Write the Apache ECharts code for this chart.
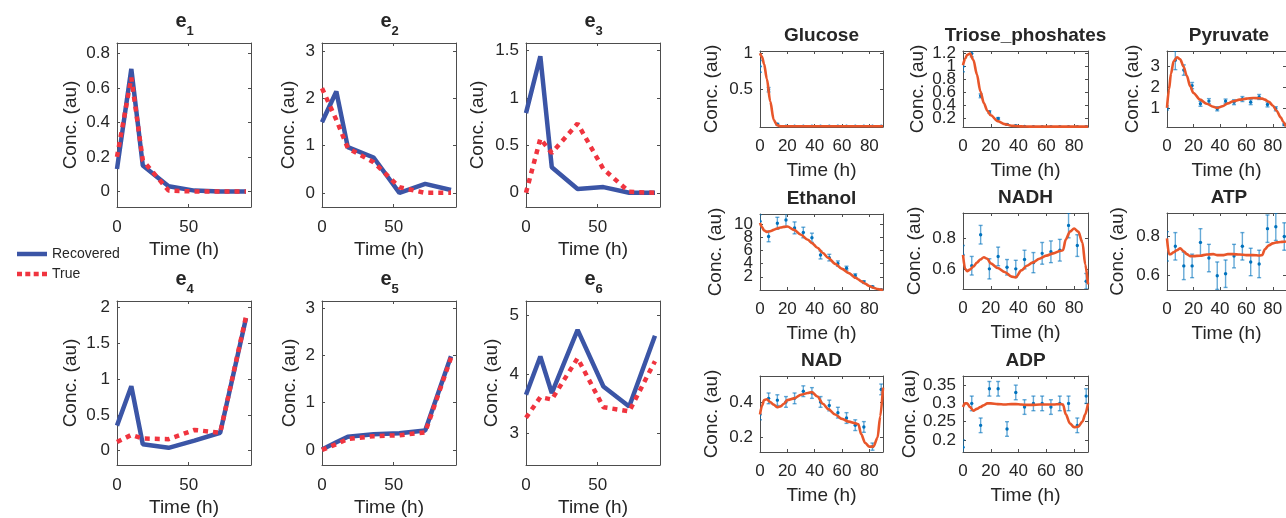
<!DOCTYPE html>
<html>
<head>
<meta charset="UTF-8">
<title>Recovered enzymes and metabolite fits</title>
<script src="https://cdn.jsdelivr.net/npm/echarts@6/dist/echarts.min.js"></script>
<style>
    body { margin: 0; background: #fff; }
    #chart { width: 1286px; height: 518px; }
</style>
</head>
<body>
<div id="chart"></div>
<script>
    // enzyme profiles (left block)
    const eTimes = [0, 10, 18, 36, 54, 72, 90];
    const e1Recovered = [0.13, 0.71, 0.15, 0.03, 0.005, 0, 0];
    const e1True = [0.2, 0.66, 0.18, 0.005, 0, 0, 0];
    const e2Recovered = [1.5, 2.15, 0.97, 0.75, 0, 0.19, 0.06];
    const e2True = [2.22, 1.55, 0.95, 0.65, 0.12, 0, 0];
    const e3Recovered = [0.84, 1.44, 0.27, 0.04, 0.06, 0, 0];
    const e3True = [0, 0.57, 0.42, 0.73, 0.25, 0.01, 0];
    const e4Recovered = [0.35, 0.9, 0.09, 0.04, 0.14, 0.25, 1.85];
    const e4True = [0.12, 0.22, 0.17, 0.16, 0.29, 0.25, 1.87];
    const e5Recovered = [0.01, 0.16, 0.28, 0.33, 0.35, 0.41, 1.98];
    const e5True = [0.0, 0.12, 0.23, 0.29, 0.31, 0.37, 1.95];
    const e6Recovered = [3.66, 4.31, 3.69, 4.76, 3.8, 3.46, 4.66];
    const e6True = [3.27, 3.62, 3.58, 4.28, 3.45, 3.38, 4.23];

    // metabolites (right block): fitted curve + measurements
    const fitTimes = [0, 1.5, 3, 5, 7.5, 10, 12.5, 15, 17.5, 20, 25, 30, 35, 38, 42, 46, 50, 55, 60, 65, 70, 72, 74, 77, 80, 83, 86, 88, 90];
    const obsTimes = [0, 6.3, 12.7, 19, 25.3, 31.7, 38, 44.3, 50.7, 57, 63.3, 69.7, 76, 82.3, 88.7];

    const glucoseFit = [1.0, 0.95, 0.85, 0.65, 0.34, 0.09, 0.015, 0, 0, 0, 0, 0, 0, 0, 0, 0, 0, 0, 0, 0, 0, 0, 0, 0, 0, 0, 0, 0, 0];
    const glucoseObs = [0.82, 0.5, 0.03, 0, 0, 0, 0, 0, 0, 0, 0, 0, 0, 0, 0];
    const glucoseErr = [0.08, 0.03, 0.01, 0, 0, 0, 0, 0, 0, 0, 0, 0, 0, 0, 0];

    const trioseFit = [1.02, 1.12, 1.18, 1.2, 1.1, 0.88, 0.62, 0.44, 0.32, 0.25, 0.16, 0.115, 0.09, 0.085, 0.08, 0.077, 0.076, 0.076, 0.076, 0.076, 0.076, 0.076, 0.076, 0.076, 0.076, 0.076, 0.076, 0.076, 0.076];
    const trioseObs = [1.0, 1.2, 0.55, 0.3, 0.2, 0.11, 0.09, 0.077, 0.076, 0.076, 0.076, 0.076, 0.076, 0.076, 0.076];
    const trioseErr = [0.08, 0.05, 0.03, 0.02, 0.015, 0.01, 0.008, 0, 0, 0, 0, 0, 0, 0, 0];

    const pyruvateFit = [1.0, 1.9, 2.65, 3.25, 3.45, 3.35, 3.0, 2.55, 2.05, 1.72, 1.4, 1.2, 1.06, 1.0, 1.08, 1.22, 1.32, 1.4, 1.45, 1.48, 1.47, 1.45, 1.4, 1.3, 1.12, 0.85, 0.55, 0.32, 0.1];
    const pyruvateObs = [1.0, 3.3, 2.83, 2.08, 1.2, 1.33, 0.96, 1.33, 1.28, 1.43, 1.28, 1.53, 1.17, 0.96, 0.2];
    const pyruvateErr = [0.1, 0.45, 0.25, 0.15, 0.12, 0.12, 0.1, 0.1, 0.12, 0.12, 0.12, 0.12, 0.12, 0.1, 0.05];

    const ethanolFit = [10.15, 9.5, 9.0, 8.8, 8.9, 9.1, 9.3, 9.45, 9.55, 9.6, 9.1, 8.35, 7.6, 7.1, 6.4, 5.6, 4.85, 3.95, 3.2, 2.55, 1.85, 1.6, 1.3, 0.95, 0.6, 0.35, 0.15, 0.06, 0];
    const ethanolObs = [10.4, 8.1, 10.1, 10.6, 9.4, 8.7, 7.9, 5.3, 4.9, 4.0, 3.3, 2.2, 1.2, 0.5, 0.05];
    const ethanolErr = [1.0, 0.8, 0.9, 1.0, 0.9, 0.8, 0.7, 0.6, 0.5, 0.4, 0.3, 0.25, 0.2, 0.1, 0.05];

    const nadhFit = [0.69, 0.6, 0.585, 0.595, 0.615, 0.64, 0.66, 0.675, 0.665, 0.635, 0.605, 0.58, 0.55, 0.545, 0.59, 0.62, 0.64, 0.665, 0.685, 0.7, 0.715, 0.72, 0.79, 0.84, 0.86, 0.84, 0.77, 0.63, 0.5];
    const nadhObs = [0.69, 0.62, 0.82, 0.6, 0.68, 0.61, 0.6, 0.66, 0.64, 0.7, 0.71, 0.72, 0.88, 0.75, 0.52];
    const nadhErr = [0.06, 0.06, 0.06, 0.065, 0.06, 0.05, 0.055, 0.06, 0.065, 0.07, 0.07, 0.07, 0.08, 0.07, 0.05];

    const atpFit = [0.79, 0.71, 0.71, 0.72, 0.73, 0.74, 0.725, 0.71, 0.7, 0.7, 0.702, 0.708, 0.71, 0.705, 0.705, 0.71, 0.71, 0.708, 0.705, 0.705, 0.703, 0.705, 0.735, 0.755, 0.765, 0.77, 0.772, 0.773, 0.775];
    const atpObs = [0.75, 0.75, 0.65, 0.65, 0.77, 0.69, 0.6, 0.61, 0.7, 0.75, 0.67, 0.66, 0.84, 0.85, 0.8];
    const atpErr = [0.075, 0.07, 0.07, 0.06, 0.07, 0.07, 0.07, 0.07, 0.06, 0.07, 0.07, 0.07, 0.07, 0.07, 0.07];

    const nadFit = [0.33, 0.38, 0.41, 0.415, 0.4, 0.385, 0.37, 0.375, 0.39, 0.41, 0.42, 0.44, 0.45, 0.455, 0.43, 0.39, 0.36, 0.33, 0.305, 0.29, 0.28, 0.275, 0.22, 0.17, 0.15, 0.15, 0.2, 0.32, 0.48];
    const nadObs = [0.33, 0.42, 0.41, 0.4, 0.42, 0.46, 0.45, 0.4, 0.38, 0.34, 0.31, 0.27, 0.26, 0.15, 0.47];
    const nadErr = [0.03, 0.03, 0.03, 0.03, 0.03, 0.03, 0.03, 0.03, 0.03, 0.03, 0.03, 0.03, 0.03, 0.02, 0.03];

    const adpFit = [0.29, 0.3, 0.3, 0.29, 0.28, 0.285, 0.29, 0.295, 0.3, 0.3, 0.298, 0.297, 0.298, 0.298, 0.297, 0.296, 0.296, 0.297, 0.297, 0.297, 0.298, 0.297, 0.27, 0.245, 0.235, 0.236, 0.25, 0.27, 0.3];
    const adpObs = [0.18, 0.3, 0.24, 0.34, 0.34, 0.23, 0.33, 0.29, 0.3, 0.3, 0.29, 0.3, 0.3, 0.24, 0.32];
    const adpErr = [0.02, 0.02, 0.02, 0.02, 0.02, 0.02, 0.02, 0.02, 0.02, 0.02, 0.02, 0.02, 0.02, 0.02, 0.02];

    const enzymeXTicks = [0, 50];
    const metaboliteXTicks = [0, 20, 40, 60, 80];

    const font = '"Liberation Sans", Arial, Helvetica, sans-serif';
    const ink = '#262626';
    const recoveredColor = '#3b55a6';
    const trueColor = '#f0343f';
    const fitColor = '#e8562a';

    const chart = echarts.init(document.getElementById('chart'));
    const grids = [], xAxes = [], yAxes = [], series = [], texts = [];

    // one boxed axes, MATLAB style: ticks inside on all four sides
    function addAxes(p) {
        const g = grids.length;
        grids.push({ left: p.left, top: p.top, width: p.w, height: p.h });
        const line = { show: true, onZero: false, lineStyle: { color: '#4d4d4d', width: 1 } };
        const tick = (vals) => ({ show: true, inside: true, length: 3, customValues: vals, lineStyle: { color: '#4d4d4d' } });
        const label = { fontSize: 17, color: ink, fontFamily: font, showMinLabel: true, showMaxLabel: true, hideOverlap: false };
        const xi = xAxes.length, yi = yAxes.length;
        xAxes.push({
            type: 'value', gridIndex: g, position: 'bottom', min: p.x[0], max: p.x[1],
            axisLine: line, axisTick: tick(p.xTicks), splitLine: { show: false },
            axisLabel: Object.assign({ customValues: p.xTicks, margin: p.xMargin }, label),
            name: 'Time (h)', nameLocation: 'middle', nameGap: p.xGap,
            nameTextStyle: { fontSize: 19, color: ink, fontFamily: font }
        });
        xAxes.push({
            type: 'value', gridIndex: g, position: 'top', min: p.x[0], max: p.x[1],
            axisLine: line, axisTick: tick(p.xTicks), splitLine: { show: false },
            axisLabel: { show: false, customValues: p.xTicks }
        });
        // crowded tick labels are split over two overlaid axes so none get dropped
        const shown = p.yTicks.filter((v, i) => !p.split || i % 2 === 0);
        yAxes.push({
            type: 'value', gridIndex: g, position: 'left', min: p.y[0], max: p.y[1],
            axisLine: line, axisTick: tick(p.yTicks), splitLine: { show: false },
            axisLabel: Object.assign({ customValues: shown, margin: 7 }, label),
            name: 'Conc. (au)', nameLocation: 'middle', nameRotate: 90, nameGap: p.yGap,
            nameTextStyle: { fontSize: 19, color: ink, fontFamily: font }
        });
        yAxes.push({
            type: 'value', gridIndex: g, position: 'right', min: p.y[0], max: p.y[1],
            axisLine: line, axisTick: tick(p.yTicks), splitLine: { show: false },
            axisLabel: { show: false, customValues: p.yTicks }
        });
        if (p.split) {
            const rest = p.yTicks.filter((v, i) => i % 2 === 1);
            yAxes.push({
                type: 'value', gridIndex: g, position: 'left', offset: 0, min: p.y[0], max: p.y[1],
                axisLine: { show: false }, axisTick: { show: false }, splitLine: { show: false },
                axisLabel: Object.assign({ customValues: rest, margin: 7 }, label)
            });
        }
        return { x: xi, y: yi };
    }

    function pairs(xs, ys) {
        return xs.map((x, i) => [x, ys[i]]);
    }

    const enzymePanels = [
        { sub: '1', rec: e1Recovered, tru: e1True, left: 117, top: 43, y: [-0.09, 0.86], yTicks: [0, 0.2, 0.4, 0.6, 0.8], yGap: 37 },
        { sub: '2', rec: e2Recovered, tru: e2True, left: 322, top: 43, y: [-0.3, 3.18], yTicks: [0, 1, 2, 3], yGap: 24 },
        { sub: '3', rec: e3Recovered, tru: e3True, left: 526, top: 43, y: [-0.15, 1.58], yTicks: [0, 0.5, 1, 1.5], yGap: 39 },
        { sub: '4', rec: e4Recovered, tru: e4True, left: 117, top: 301, y: [-0.2, 2.09], yTicks: [0, 0.5, 1, 1.5, 2], yGap: 37 },
        { sub: '5', rec: e5Recovered, tru: e5True, left: 322, top: 301, y: [-0.32, 3.15], yTicks: [0, 1, 2, 3], yGap: 23 },
        { sub: '6', rec: e6Recovered, tru: e6True, left: 526, top: 301, y: [2.47, 5.25], yTicks: [3, 4, 5], yGap: 24.5 }
    ];

    enzymePanels.forEach(p => {
        const w = 134, h = 164;
        const a = addAxes({ left: p.left, top: p.top, w: w, h: h, x: [0, 93.5], xTicks: enzymeXTicks,
            y: p.y, yTicks: p.yTicks, yGap: p.yGap, xGap: 33, xMargin: 12 });
        series.push({
            name: 'Recovered', type: 'line', xAxisIndex: a.x, yAxisIndex: a.y, data: pairs(eTimes, p.rec),
            symbol: 'none', lineStyle: { color: recoveredColor, width: 4.5 }, itemStyle: { color: recoveredColor }, z: 2
        });
        series.push({
            name: 'True', type: 'line', xAxisIndex: a.x, yAxisIndex: a.y, data: pairs(eTimes, p.tru),
            symbol: 'none', lineStyle: { color: trueColor, width: 4.5, type: [5, 5], cap: 'butt' }, itemStyle: { color: trueColor }, z: 3
        });
        const cx = p.left + w / 2;
        texts.push({ type: 'text', x: cx - 3, y: p.top - 22, style: { text: 'e', fontSize: 20, fontWeight: 'bold', fontFamily: font, fill: ink, align: 'center', verticalAlign: 'middle', textAlign: 'center', textVerticalAlign: 'middle' } });
        texts.push({ type: 'text', x: cx + 6, y: p.top - 12, style: { text: p.sub, fontSize: 13, fontWeight: 'bold', fontFamily: font, fill: ink, align: 'center', verticalAlign: 'middle', textAlign: 'center', textVerticalAlign: 'middle' } });
    });

    const metabolitePanels = [
        { name: 'Glucose', fit: glucoseFit, obs: glucoseObs, err: glucoseErr, left: 760, top: 51, w: 123, h: 76, y: [-0.01, 1.03], yTicks: [0.5, 1], yGap: 39 },
        { name: 'Triose_phoshates', fit: trioseFit, obs: trioseObs, err: trioseErr, left: 963, top: 51, w: 125, h: 76, y: [0.07, 1.24], yTicks: [0.2, 0.4, 0.6, 0.8, 1, 1.2], yGap: 35.5, split: true },
        { name: 'Pyruvate', fit: pyruvateFit, obs: pyruvateObs, err: pyruvateErr, left: 1167, top: 51, w: 124, h: 76, y: [0.08, 3.75], yTicks: [1, 2, 3], yGap: 24.5 },
        { name: 'Ethanol', fit: ethanolFit, obs: ethanolObs, err: ethanolErr, left: 760, top: 214, w: 123, h: 76, y: [0, 11.5], yTicks: [2, 4, 6, 8, 10], yGap: 34.5, split: true },
        { name: 'NADH', fit: nadhFit, obs: nadhObs, err: nadhErr, left: 963, top: 213, w: 125, h: 76, y: [0.47, 0.96], yTicks: [0.6, 0.8], yGap: 39 },
        { name: 'ATP', fit: atpFit, obs: atpObs, err: atpErr, left: 1167, top: 213, w: 124, h: 77, y: [0.527, 0.92], yTicks: [0.6, 0.8], yGap: 39.5 },
        { name: 'NAD', fit: nadFit, obs: nadObs, err: nadErr, left: 760, top: 376, w: 123, h: 76, y: [0.12, 0.545], yTicks: [0.2, 0.4], yGap: 38.5 },
        { name: 'ADP', fit: adpFit, obs: adpObs, err: adpErr, left: 963, top: 376, w: 125, h: 76, y: [0.167, 0.375], yTicks: [0.2, 0.25, 0.3, 0.35], yGap: 40.5 }
    ];

    function errorBar(params, api) {
        const t = api.value(0), v = api.value(1), e = api.value(2);
        const mid = api.coord([t, v]);
        const hi = api.coord([t, v + e]);
        const lo = api.coord([t, v - e]);
        const bar = { stroke: 'rgba(0,114,189,0.6)', lineWidth: 1.4 };
        return {
            type: 'group',
            children: [
                { type: 'line', shape: { x1: mid[0], y1: hi[1], x2: mid[0], y2: lo[1] }, style: bar },
                { type: 'line', shape: { x1: mid[0] - 2, y1: hi[1], x2: mid[0] + 2, y2: hi[1] }, style: bar },
                { type: 'line', shape: { x1: mid[0] - 2, y1: lo[1], x2: mid[0] + 2, y2: lo[1] }, style: bar },
                { type: 'circle', shape: { cx: mid[0], cy: mid[1], r: 1.7 }, style: { fill: '#0072bd' } }
            ]
        };
    }

    metabolitePanels.forEach(p => {
        const a = addAxes({ left: p.left, top: p.top, w: p.w, h: p.h, x: [0, 90], xTicks: metaboliteXTicks,
            y: p.y, yTicks: p.yTicks, yGap: p.yGap, xGap: 34, xMargin: 11, split: p.split });
        series.push({
            type: 'custom', xAxisIndex: a.x, yAxisIndex: a.y, clip: true, silent: true, z: 2,
            data: obsTimes.map((t, i) => [t, p.obs[i], p.err[i]]),
            renderItem: errorBar
        });
        series.push({
            type: 'line', xAxisIndex: a.x, yAxisIndex: a.y, data: pairs(fitTimes, p.fit),
            symbol: 'none', smooth: 0.3, smoothMonotone: 'x', z: 3,
            lineStyle: { color: fitColor, width: 2.6 }
        });
        texts.push({ type: 'text', x: p.left + p.w / 2, y: p.top - 15, style: { text: p.name, fontSize: 19, fontWeight: 'bold', fontFamily: font, fill: ink, align: 'center', verticalAlign: 'middle', textAlign: 'center', textVerticalAlign: 'middle' } });
    });

    chart.setOption({
        animation: false,
        backgroundColor: '#fff',
        legend: {
            data: [
                { name: 'Recovered', icon: 'path://M0,0H30V4.5H0Z' },
                { name: 'True', icon: 'path://M0,0H5V4.5H0ZM8.3,0H13.3V4.5H8.3ZM16.7,0H21.7V4.5H16.7ZM25,0H30V4.5H25Z' }
            ],
            orient: 'vertical', left: 12, top: 242,
            itemWidth: 30, itemHeight: 14, itemGap: 6, symbolKeepAspect: true,
            textStyle: { fontSize: 14, color: ink, fontFamily: font }
        },
        grid: grids,
        xAxis: xAxes,
        yAxis: yAxes,
        graphic: { elements: texts },
        series: series
    });
</script>
</body>
</html>
